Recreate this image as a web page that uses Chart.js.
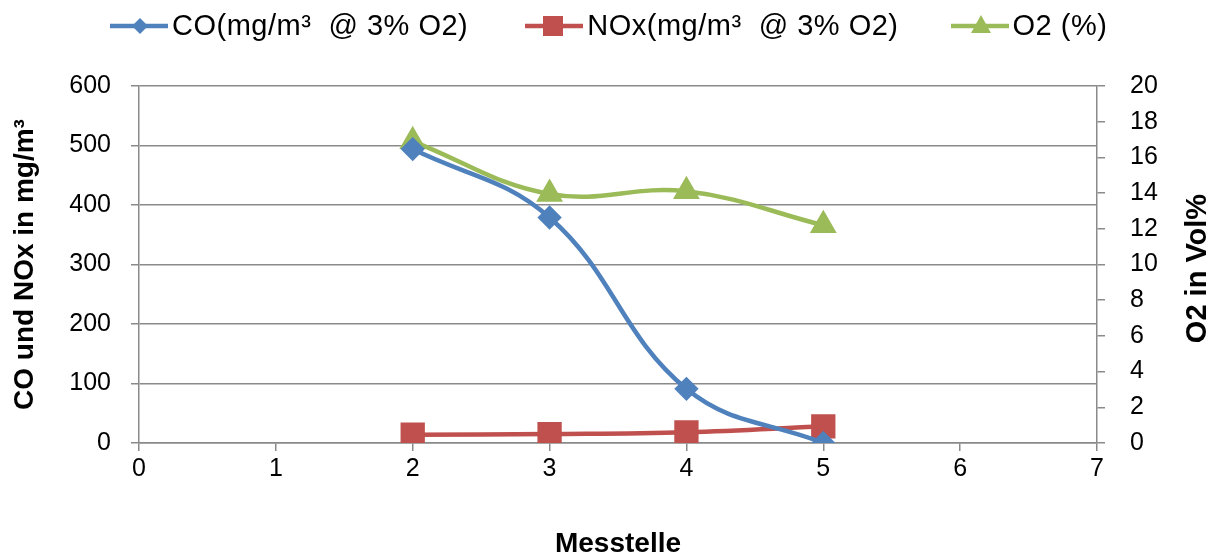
<!DOCTYPE html>
<html>
<head>
<meta charset="utf-8">
<script src="https://cdn.jsdelivr.net/npm/chart.js@4"></script>
<style>
  html, body { margin: 0; padding: 0; background: #fff; }
  #wrap { width: 1221px; height: 558px; position: relative; }
  #legend {
    position: absolute; left: 110px; top: 8px; height: 34px;
    display: flex; align-items: center; gap: 0;
    font-family: 'Liberation Sans', Arial, sans-serif; font-size: 29px;
    letter-spacing: 0.5px; color: #000; white-space: pre;
  }
  #legend .item { display: flex; align-items: center; }
  #legend canvas { margin-right: 4px; }
</style>
</head>
<body>
<div id="wrap">
  <canvas id="chart"></canvas>
  <div id="legend"></div>
</div>
<script>
const messstellen = [2, 3, 4, 5];
const coValues = [494, 379, 91, 0];
const noxValues = [14, 15, 18, 28];
const o2Values = [16.9, 13.95, 14.1, 12.2];

const seriesNames = ['CO(mg/m³  @ 3% O2)', 'NOx(mg/m³  @ 3% O2)', 'O2 (%)'];
const colors = ['#4f81bd', '#c0504d', '#9bbb59'];
const shapes = ['diamond', 'square', 'triangle'];

function toPoints(xs, ys) {
  return xs.map((x, i) => ({ x: x, y: ys[i] }));
}

// line + marker swatch, Excel style
function legendIcon(color, shape) {
  const c = document.createElement('canvas');
  c.width = 58; c.height = 24;
  const g = c.getContext('2d');
  g.strokeStyle = color;
  g.lineWidth = 4.5;
  g.beginPath(); g.moveTo(0, 13); g.lineTo(58, 13); g.stroke();
  g.fillStyle = color;
  g.beginPath();
  if (shape === 'diamond') {
    g.moveTo(30, 5); g.lineTo(38, 13); g.lineTo(30, 21); g.lineTo(22, 13);
  } else if (shape === 'square') {
    g.rect(18, 3, 20, 20);
  } else {
    g.moveTo(30, 2); g.lineTo(40, 20); g.lineTo(20, 20);
  }
  g.closePath(); g.fill();
  return c;
}

const legendEl = document.getElementById('legend');
const legendGaps = [0, 57, 52];
seriesNames.forEach((name, i) => {
  const item = document.createElement('div');
  item.className = 'item';
  item.style.marginLeft = legendGaps[i] + 'px';
  item.appendChild(legendIcon(colors[i], shapes[i]));
  const span = document.createElement('span');
  span.textContent = name;
  item.appendChild(span);
  legendEl.appendChild(item);
});

const gridColor = '#8a8a8a';
const fontFamily = 'Liberation Sans, Arial, sans-serif';
const tickFont = { family: fontFamily, size: 25 };
const titleFont = { family: fontFamily, size: 28, weight: 'bold', lineHeight: 1 };

// right axis title reads bottom-to-top in the original
const rightTitle = {
  id: 'rightTitle',
  afterDraw(chart) {
    const { ctx, chartArea } = chart;
    ctx.save();
    ctx.translate(1198, (chartArea.top + chartArea.bottom) / 2 + 4);
    ctx.rotate(-Math.PI / 2);
    ctx.font = 'bold 29px ' + fontFamily;
    ctx.fillStyle = '#000';
    ctx.textAlign = 'center';
    ctx.textBaseline = 'middle';
    ctx.fillText('O2 in Vol%', 0, 0);
    ctx.restore();
  }
};

new Chart(document.getElementById('chart'), {
  type: 'scatter',
  data: {
    datasets: [
      {
        label: seriesNames[0],
        data: toPoints(messstellen, coValues),
        yAxisID: 'y',
        showLine: true,
        tension: 0.4,
        borderColor: colors[0],
        backgroundColor: colors[0],
        borderWidth: 4.5,
        pointStyle: 'rectRot',
        pointRadius: 9,
        pointHoverRadius: 9
      },
      {
        label: seriesNames[1],
        data: toPoints(messstellen, noxValues),
        yAxisID: 'y',
        showLine: true,
        tension: 0.4,
        borderColor: colors[1],
        backgroundColor: colors[1],
        borderWidth: 4.5,
        pointStyle: 'rect',
        pointRadius: 14,
        pointHoverRadius: 14
      },
      {
        label: seriesNames[2],
        data: toPoints(messstellen, o2Values),
        yAxisID: 'y1',
        showLine: true,
        tension: 0.4,
        borderColor: colors[2],
        backgroundColor: colors[2],
        borderWidth: 4.5,
        pointStyle: 'triangle',
        pointRadius: 11,
        pointHoverRadius: 11
      }
    ]
  },
  options: {
    responsive: true,
    maintainAspectRatio: false,
    animation: false,
    layout: { padding: { left: 0, right: 0, top: 86, bottom: 0 } },
    plugins: {
      tooltip: { enabled: false },
      legend: { display: false }
    },
    scales: {
      x: {
        type: 'linear',
        min: 0,
        max: 7,
        afterFit: (s) => { s.height = 115; },
        ticks: { stepSize: 1, color: '#000', font: tickFont, padding: 3 },
        grid: { drawOnChartArea: false, color: gridColor, lineWidth: 1.5, tickLength: 8 },
        border: { color: gridColor, width: 1.5 },
        title: { display: true, text: 'Messtelle', color: '#000', font: titleFont, padding: { top: 0, bottom: 0 } }
      },
      y: {
        position: 'left',
        min: 0,
        max: 600,
        afterFit: (s) => { s.width = 139; },
        ticks: { stepSize: 100, color: '#000', font: tickFont, padding: 20 },
        grid: { color: gridColor, lineWidth: 1.5, tickLength: 8 },
        border: { color: gridColor, width: 1.5 },
        title: { display: true, text: 'CO und NOx in mg/m³', color: '#000', font: titleFont, padding: { top: 11, bottom: 0 } }
      },
      y1: {
        position: 'right',
        min: 0,
        max: 20,
        afterFit: (s) => { s.width = 124; },
        ticks: { stepSize: 2, color: '#000', font: tickFont, padding: 25 },
        grid: { drawOnChartArea: false, color: gridColor, lineWidth: 1.5, tickLength: 8 },
        border: { color: gridColor, width: 1.5 }
      }
    }
  },
  plugins: [rightTitle]
});
</script>
</body>
</html>
